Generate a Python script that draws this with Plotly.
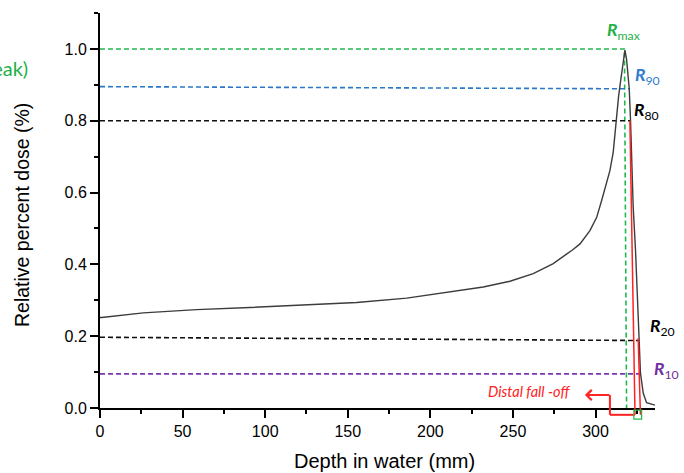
import plotly.graph_objects as go

# Depth-dose curve (depth in mm, relative dose)
depth = [0, 1, 26.2, 58.5, 90.8, 123.1, 155.4, 185.7, 211.9, 232.0, 248.2, 262.3,
         274.4, 278.0, 282.0, 286.0, 290.6, 296.6, 300.7, 303.7, 306.7, 308.7, 310.7,
         311.8, 312.8, 314.0, 315.2, 316.6, 317.8, 318.8, 320.4, 321.2, 321.8, 322.8,
         324.2, 324.8, 326.4, 327.2, 328.9, 330.9, 336.0]
dose = [0.252, 0.252, 0.265, 0.274, 0.280, 0.286, 0.294, 0.306, 0.323, 0.337, 0.353, 0.374,
        0.402, 0.413, 0.427, 0.440, 0.457, 0.494, 0.531, 0.578, 0.624, 0.661, 0.712,
        0.765, 0.822, 0.870, 0.911, 0.960, 0.997, 0.970, 0.890, 0.800, 0.720, 0.560,
        0.440, 0.357, 0.190, 0.097, 0.041, 0.015, 0.008]

# Reference dose levels: left value, right value, depth where the guide ends
level_names = ["max", "90", "80", "20", "10"]
level_left = [1.0, 0.895, 0.80, 0.197, 0.095]
level_right = [1.0, 0.889, 0.80, 0.188, 0.095]
level_end = [317.5, 320.8, 321.2, 325.8, 326.5]
level_colors = ["#22b84a", "#2a78cc", "#111111", "#111111", "#7a35b0"]
label_colors = ["#1fb04a", "#2f7bd0", "#000000", "#000000", "#7030a0"]

# R_max drop line (top depth, bottom depth)
rmax_drop = [317.5, 318.8]

# Distal fall-off markers: (depth, dose) start -> (depth, dose) end
r80_mark = [(320.8, 0.80), (323.9, -0.019)]
r20_mark = [(325.8, 0.194), (327.2, -0.019)]
bracket_depth = [323.9, 308.7, 308.7]
bracket_dose = [-0.019, -0.019, 0.036]
arrow_tip = (293.6, 0.036)
box_depth = [323.2, 327.9]
box_dose = [-0.031, -0.006]

# Label anchor positions (depth, dose)
label_pos = [(305.8, 1.05), (322.4, 0.925), (322.2, 0.828), (332.0, 0.225), (334.4, 0.106)]

X_MAX = 336
Y_MAX = 1.1

RED = "#ff2222"

fig = go.Figure()

for name, yl, yr, xe, c in zip(level_names, level_left, level_right, level_end, level_colors):
    if name == "max":
        xs = [0, xe, rmax_drop[1]]
        ys = [yl, yr, 0.0]
    else:
        xs = [0, xe]
        ys = [yl, yr]
    fig.add_trace(go.Scatter(x=xs, y=ys, mode="lines",
                             line=dict(color=c, width=1.6, dash="5px,3px"),
                             hoverinfo="skip", showlegend=False))

fig.add_trace(go.Scatter(x=depth, y=dose, mode="lines",
                         line=dict(color="#3c3c3c", width=1.4),
                         showlegend=False))


def py(v):
    return v / Y_MAX


shapes = []
for (x0, y0), (x1, y1) in (r80_mark, r20_mark):
    shapes.append(dict(type="line", xref="x", yref="paper",
                       x0=x0, y0=py(y0), x1=x1, y1=py(y1),
                       line=dict(color=RED, width=1.5)))
for i in range(len(bracket_depth) - 1):
    shapes.append(dict(type="line", xref="x", yref="paper",
                       x0=bracket_depth[i], y0=py(bracket_dose[i]),
                       x1=bracket_depth[i + 1], y1=py(bracket_dose[i + 1]),
                       line=dict(color=RED, width=2)))
shapes.append(dict(type="rect", xref="x", yref="paper",
                   x0=box_depth[0], x1=box_depth[1],
                   y0=py(box_dose[0]), y1=py(box_dose[1]),
                   line=dict(color="#22b84a", width=1.2), fillcolor="rgba(0,0,0,0)"))

annotations = []
annotations.append(dict(x=arrow_tip[0], y=arrow_tip[1], xref="x", yref="y",
                        ax=bracket_depth[-1], ay=bracket_dose[-1], axref="x", ayref="y",
                        text=" ", showarrow=True, arrowhead=4, arrowsize=1.0,
                        arrowwidth=2, arrowcolor=RED, borderpad=0,
                        font=dict(size=1)))
annotations.append(dict(x=285.9, y=0.047, xref="x", yref="y", xanchor="right",
                        yanchor="middle", showarrow=False,
                        text="<i>Distal fall -off</i>",
                        font=dict(family="Lato", size=14.5, color=RED)))

for name, (lx, ly), c in zip(level_names, label_pos, label_colors):
    annotations.append(dict(x=lx, y=ly, xref="x", yref="y", xanchor="left",
                            yanchor="middle", showarrow=False,
                            text=f"<b><i>R</i></b><sub>{name}</sub>",
                            font=dict(family="Lato", size=17.5, color=c)))

annotations.append(dict(x=-0.126, y=0.861, xref="paper", yref="paper",
                        xanchor="right", yanchor="middle", showarrow=False,
                        text="(Bragg peak)",
                        font=dict(family="Lato", size=20, color="#1fb04a")))

# Axis titles
annotations.append(dict(x=0.5135, y=-0.134, xref="paper", yref="paper",
                        xanchor="center", yanchor="middle", showarrow=False,
                        text="Depth in water (mm)",
                        font=dict(family="Liberation Sans, Arial", size=20, color="#000000")))
annotations.append(dict(x=-0.1405, y=0.4886, xref="paper", yref="paper",
                        xanchor="center", yanchor="middle", showarrow=False, textangle=-90,
                        text="Relative percent dose (%)",
                        font=dict(family="Liberation Sans, Arial", size=19.5, color="#000000")))

fig.update_layout(
    width=684, height=473,
    margin=dict(l=100, r=29, t=13, b=65),
    plot_bgcolor="white", paper_bgcolor="white",
    font=dict(family="Liberation Sans, Arial", size=16, color="#000000"),
    shapes=shapes, annotations=annotations,
    xaxis=dict(range=[0, X_MAX], dtick=50, tick0=0, showgrid=False, zeroline=False,
               showline=True, linecolor="#000000", linewidth=2,
               ticks="outside", ticklen=8, tickwidth=2, tickcolor="#000000",
               minor=dict(dtick=25, ticks="outside", ticklen=4, tickwidth=2,
                          tickcolor="#000000", showgrid=False),
               automargin=False),
    yaxis=dict(range=[0, Y_MAX + 0.0001], dtick=0.2, tick0=0, tickformat=".1f",
               showgrid=False, zeroline=False,
               showline=True, linecolor="#000000", linewidth=2,
               ticks="outside", ticklen=8, tickwidth=2, tickcolor="#000000",
               minor=dict(dtick=0.1, ticks="outside", ticklen=4, tickwidth=2,
                          tickcolor="#000000", showgrid=False),
               automargin=False),
)

fig.write_html("out.html")
